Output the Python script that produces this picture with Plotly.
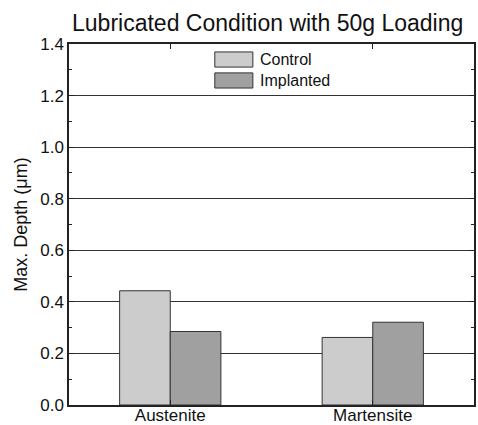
import plotly.graph_objects as go

categories = ["Austenite", "Martensite"]
series_names = ["Control", "Implanted"]
control = [0.443, 0.262]
implanted = [0.285, 0.321]
colors = ["#cccccc", "#a0a0a0"]
y_ticks = [0.0, 0.2, 0.4, 0.6, 0.8, 1.0, 1.2, 1.4]

FONT = "Liberation Sans, Arial, sans-serif"

fig = go.Figure()
for name, vals, col in zip(series_names, [control, implanted], colors):
    fig.add_trace(go.Bar(x=categories, y=vals, name=name, marker=dict(color=col, line=dict(color="#333333", width=1)), showlegend=False))

fig.update_layout(
    width=478, height=425,
    margin=dict(l=69, r=4, t=44, b=20, autoexpand=False),
    paper_bgcolor="white", plot_bgcolor="white",
    barmode="group", bargap=0.5, bargroupgap=0,
    font=dict(family=FONT, color="#111111"),
    title=dict(text="Lubricated Condition with 50g Loading", x=0.56, xanchor="center", y=0.946, yanchor="middle",
               font=dict(size=23, family=FONT, color="#111111")),
)
fig.update_xaxes(range=[-0.5, 1.5], showline=True, linecolor="#222222", linewidth=1.5, mirror="ticks",
                 ticks="inside", ticklen=5, tickcolor="#222222", showgrid=False, automargin=False,
                 ticklabelstandoff=-6,
                 tickfont=dict(size=17, family=FONT, color="#111111"))
fig.update_yaxes(range=[0, 1.4], tickvals=y_ticks, ticktext=[f"{v:.1f}" for v in y_ticks],
                 showline=True, linecolor="#222222", linewidth=1.5, mirror="ticks", automargin=False,
                 ticks="inside", ticklen=5, tickcolor="#222222",
                 minor=dict(dtick=0.1, ticks="inside", ticklen=3, tickcolor="#222222", showgrid=False),
                 showgrid=True, gridcolor="#333333", gridwidth=1, zeroline=False,
                 title=dict(text="Max. Depth (\u03bcm)", font=dict(size=18, family=FONT, color="#111111"), standoff=8),
                 tickfont=dict(size=17, family=FONT, color="#111111"))

# manual legend with wide swatches
swatch_tops = [0.978, 0.920]
for name, col, top in zip(series_names, colors, swatch_tops):
    fig.add_shape(type="rect", xref="paper", yref="paper", x0=0.360, x1=0.454, y0=top - 0.042, y1=top,
                  fillcolor=col, line=dict(color="#333333", width=1))
    fig.add_annotation(xref="paper", yref="paper", x=0.466, y=top - 0.021, text=name, showarrow=False,
                       xanchor="left", yanchor="middle", font=dict(size=16, family=FONT, color="#111111"))

fig.write_html("out.html")
